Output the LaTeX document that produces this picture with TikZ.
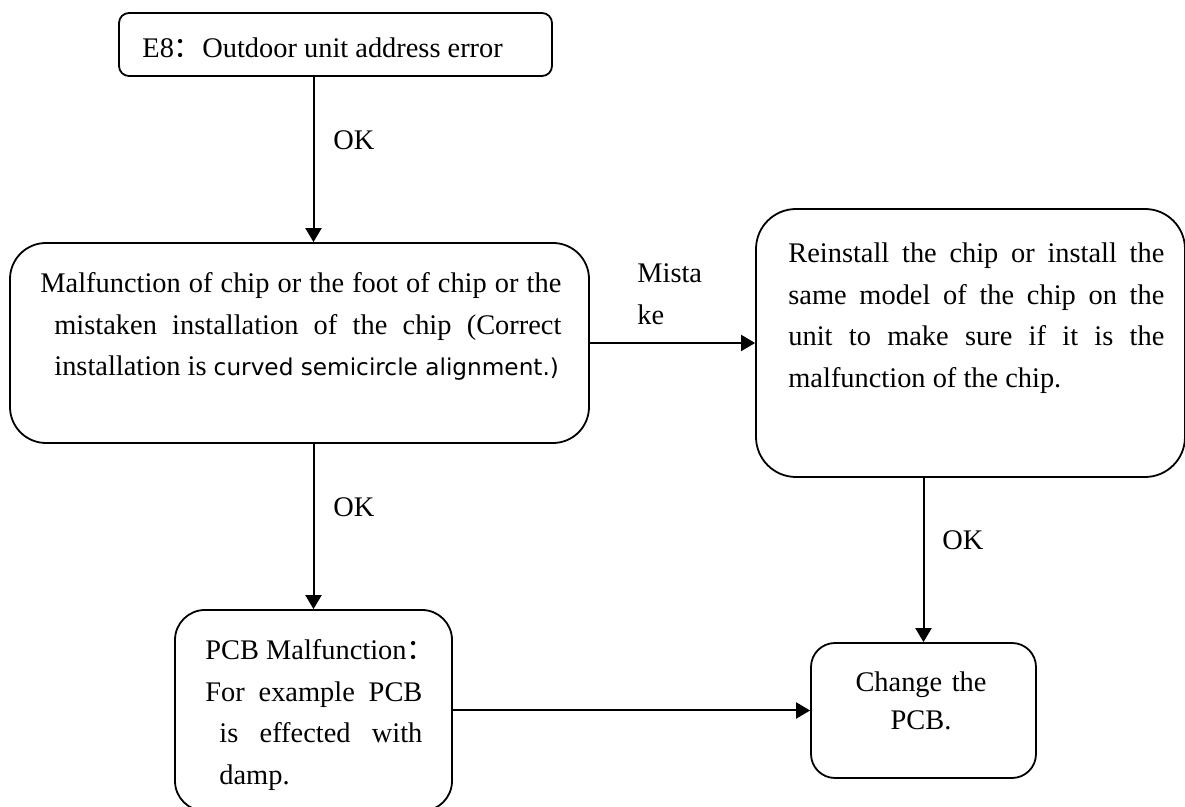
\documentclass[tikz,border=0pt]{standalone}
\usepackage{fontspec}
\setmainfont{Liberation Serif}
\newfontfamily\sansalt{DejaVu Sans}
\newfontfamily\cjk{Noto Sans CJK SC}
\usetikzlibrary{arrows.meta, positioning}

\begin{document}
\begin{tikzpicture}[
        x=0.5pt, y=-0.5pt,
        >={Triangle[length=7pt,width=8pt]},
        font=\fontsize{14.2}{20.75}\selectfont,
        box/.style={draw, line width=0.9pt, inner sep=0pt},
        flow/.style={->, line width=1pt},
        txt/.style={inner sep=0pt, anchor=base west, align=justify},
        lbl/.style={inner sep=0pt, anchor=base west}
    ]
    \useasboundingbox (0,0) rectangle (1185,807);

    % Kaesten
    \node[box, rounded corners=5pt, minimum width=216.5pt, minimum height=31.5pt] (start) at (335.5,44.5) {};
    \node[box, rounded corners=18pt, minimum width=289.5pt, minimum height=100pt] (chip) at (299.5,343) {};
    \node[box, rounded corners=20pt, minimum width=214.5pt, minimum height=134pt] (reinstall) at (970.5,343) {};
    \node[box, rounded corners=15pt, minimum width=138.5pt, minimum height=100.5pt] (pcb) at (313.5,710.5) {};
    \node[box, rounded corners=12pt, minimum width=112.5pt, minimum height=67.5pt] (change) at (923.5,710.5) {};

    % Texte
    \node[lbl] (startText) at (142,58) {E8{\cjk ：}Outdoor unit address error};
    \node[txt, text width=253.5pt] (chipText) at (54,293) {\noindent\hyphenpenalty=10000\hspace*{-7pt}Malfunction of chip or the foot of chip or the\linebreak mistaken installation of the chip (Correct\linebreak installation is {\sansalt\fontsize{11.6}{20.75}\selectfont curved semicircle alignment.)}};
    \node[txt, text width=188pt] (reinstallText) at (788,263) {\noindent Reinstall the chip or install the\linebreak same model of the chip on the\linebreak unit to make sure if it is the\linebreak malfunction of the chip.};
    \node[txt, text width=108.5pt] (pcbText) at (205,660) {\noindent PCB Malfunction\rlap{\cjk ：}\\For example PCB\linebreak \hspace*{7pt}is effected with\linebreak \hspace*{7pt}damp.};
    \node[inner sep=0pt, anchor=base, text width=80pt, align=center, font=\fontsize{14.2}{19}\selectfont] (changeText) at (921,692) {Change the\\PCB.};

    % Beschriftungen
    \node[lbl] (ok1) at (333,150) {OK};
    \node[lbl] (ok2) at (333,517) {OK};
    \node[lbl] (ok3) at (942,550) {OK};
    \node[lbl, text width=40pt, align=left] (mistake) at (637,283) {Mista\\ke};

    % Verbindungen
    \draw[flow] (start.south -| pcb) -- (chip.north -| pcb);
    \draw[flow] (chip.east) -- (reinstall.west);
    \draw[flow] (chip.south -| pcb) -- (pcb.north);
    \draw[flow] (reinstall.south -| change) -- (change.north);
    \draw[flow] (pcb.east) -- (change.west);

\end{tikzpicture}
\end{document}
